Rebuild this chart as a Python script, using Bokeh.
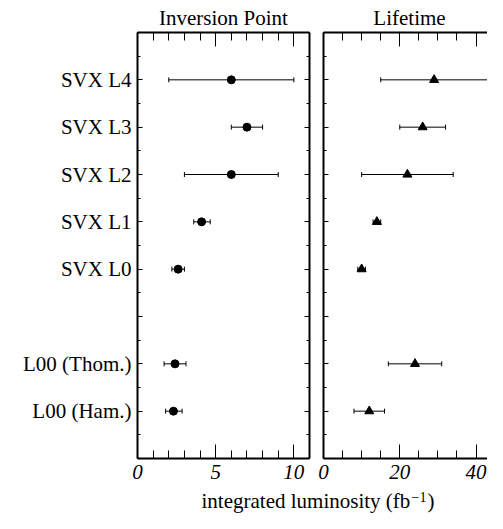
from bokeh.plotting import figure
from bokeh.models import ColumnDataSource, Whisker, TeeHead, FixedTicker, LinearAxis, Label
from bokeh.layouts import row, column
from bokeh.embed import file_html
from bokeh.resources import INLINE

# ---- data ----
categories = ["L00 (Ham.)", "L00 (Thom.)", "SVX L0", "SVX L1", "SVX L2", "SVX L3", "SVX L4"]
cat_index = [0, 1, 3, 4, 5, 6, 7]

inv_val = [2.3, 2.4, 2.6, 4.1, 6.0, 7.0, 6.0]
inv_lo = [1.8, 1.7, 2.2, 3.6, 3.0, 6.0, 2.0]
inv_hi = [2.85, 3.1, 3.0, 4.65, 9.0, 8.0, 10.0]

life_val = [12, 24, 10, 14, 22, 26, 29]
life_lo = [8, 17, 9, 13, 10, 20, 15]
life_hi = [16, 31, 11, 15, 34, 32, 45]

inv_ticks = [0, 5, 10]
inv_minor = [1, 2, 3, 4, 6, 7, 8, 9]
life_ticks = [0, 20, 40]
life_minor = [5, 10, 15, 25, 30, 35, 45]
y_ticks = [-1, 0, 1, 2, 3, 4, 5, 6, 7, 8]
y_minor = [-0.5, 0.5, 1.5, 2.5, 3.5, 4.5, 5.5, 6.5, 7.5]

titles = ["Inversion Point", "Lifetime"]
x_label = "integrated luminosity (fb"
x_label_sup = "\u22121"

FONT = "Liberation Serif"
FS = "21px"
W = 487


def style(ax, ticker, maj_in, min_in, show_labels, italic=False, standoff=6):
    ax.ticker = ticker
    ax.axis_line_width = 2
    ax.axis_line_color = "black"
    ax.major_tick_in = maj_in
    ax.major_tick_out = 0
    ax.minor_tick_in = min_in
    ax.minor_tick_out = 0
    ax.major_tick_line_width = 1
    ax.minor_tick_line_width = 1
    ax.major_tick_line_color = "black"
    ax.minor_tick_line_color = "black"
    if show_labels:
        ax.major_label_text_font = FONT
        ax.major_label_text_font_size = FS
        ax.major_label_text_color = "black"
        ax.major_label_standoff = standoff
        if italic:
            ax.major_label_text_font_style = "italic"
    else:
        ax.major_label_text_font_size = "0px"
        ax.major_label_text_color = None
        ax.major_label_standoff = 0


def panel(xr, frame_w, vals, los, his, marker, msize, xt, xm, left_labels, mbl, mbr):
    p = figure(frame_width=frame_w, frame_height=426, x_range=xr, y_range=(-1, 8),
               output_backend="svg", toolbar_location=None, title=None,
               min_border_left=mbl, min_border_right=mbr, min_border_top=2, min_border_bottom=30)
    p.outline_line_color = None
    p.xgrid.visible = False
    p.ygrid.visible = False
    p.background_fill_color = "white"
    p.border_fill_color = "white"

    src = ColumnDataSource(dict(y=cat_index, v=vals, lo=los, hi=his))
    w = Whisker(source=src, base="y", lower="lo", upper="hi", dimension="width",
                line_color="black", line_width=1,
                upper_head=TeeHead(size=5, line_color="black", line_width=1),
                lower_head=TeeHead(size=5, line_color="black", line_width=1))
    p.add_layout(w)
    p.scatter("v", "y", source=src, marker=marker, size=msize, fill_color="black", line_color="black")

    style(p.xaxis[0], FixedTicker(ticks=xt, minor_ticks=xm), 14, 8, True, italic=True, standoff=6)
    style(p.yaxis[0], FixedTicker(ticks=y_ticks, minor_ticks=y_minor), 5, 3, left_labels, standoff=6)
    if left_labels:
        ov = {t: "" for t in y_ticks}
        for c, i in zip(categories, cat_index):
            ov[i] = c
        p.yaxis[0].major_label_overrides = ov

    top = LinearAxis()
    style(top, FixedTicker(ticks=xt, minor_ticks=xm), 14, 8, False)
    p.add_layout(top, "above")
    return p


p1 = panel((0, 11), 172, inv_val, inv_lo, inv_hi, "circle", 8, inv_ticks, inv_minor, True, 137, 6)
right_ax = LinearAxis()
style(right_ax, FixedTicker(ticks=y_ticks, minor_ticks=y_minor), 5, 3, False)
p1.add_layout(right_ax, "right")

p2 = panel((0, 43.0), 164, life_val, life_lo, life_hi, "triangle", 9, life_ticks, life_minor, False, 8, 0)


def text_strip(h):
    s = figure(width=W, height=h, x_range=(0, W), y_range=(0, h), output_backend="svg",
               toolbar_location=None, title=None, x_axis_type=None, y_axis_type=None,
               min_border=0, min_border_left=0, min_border_right=0, min_border_top=0, min_border_bottom=0)
    s.outline_line_color = None
    s.xgrid.visible = False
    s.ygrid.visible = False
    s.background_fill_color = None
    s.border_fill_color = None
    return s


def lab(x, y, text, size=FS, align="left"):
    return Label(x=x, y=y, text=text, text_align=align, text_baseline="alphabetic",
                 text_font=FONT, text_font_size=size, text_color="black")


# panel titles
p0 = text_strip(30)
p0.add_layout(lab(223, 13, titles[0], align="center"))
p0.add_layout(lab(409, 13, titles[1], align="center"))

# shared axis title
p3 = text_strip(25)
p3.add_layout(lab(201, 13, x_label))
p3.add_layout(lab(411, 17, x_label_sup, size="14px"))
p3.add_layout(lab(427, 13, ")"))

layout = column(p0, row(p1, p2), p3)
open("out.html", "w").write(file_html(layout, INLINE))
